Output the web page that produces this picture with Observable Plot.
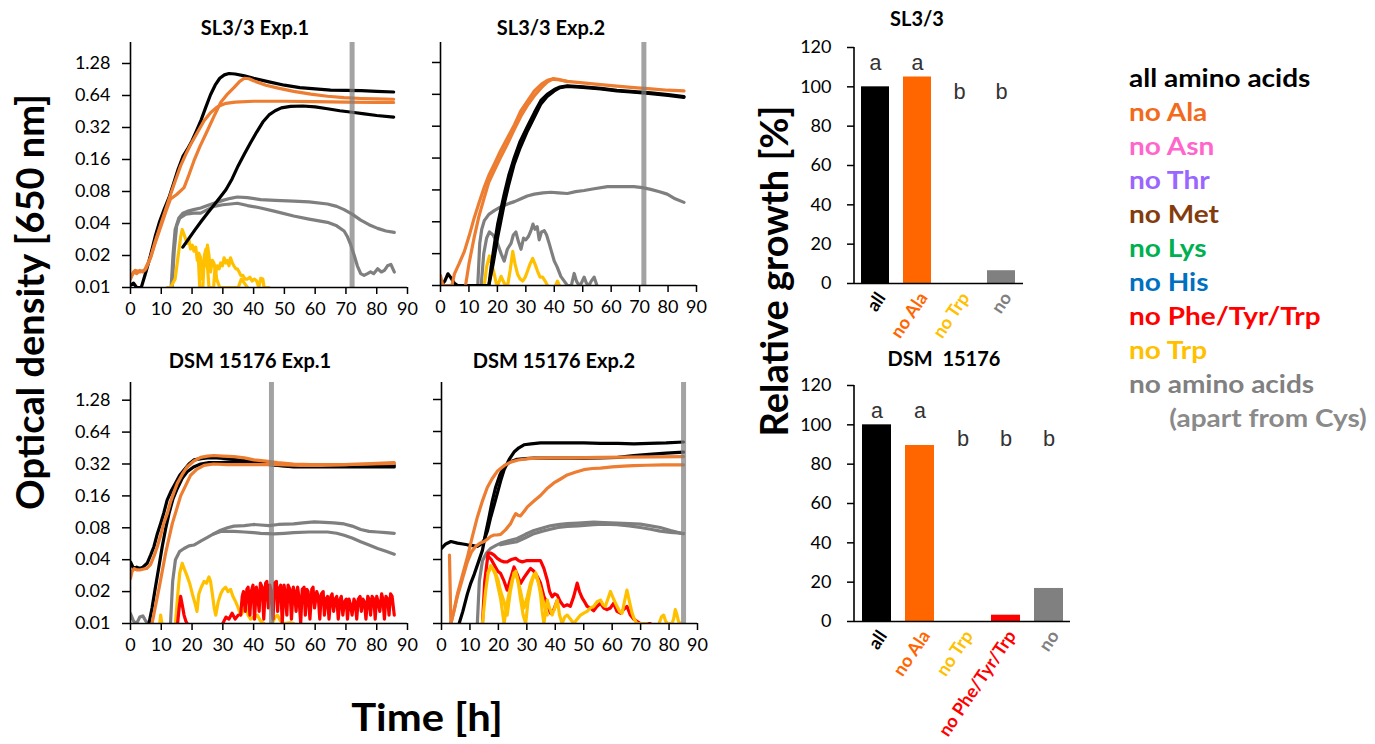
<!DOCTYPE html>
<html><head><meta charset="utf-8">
<script src="https://cdn.jsdelivr.net/npm/d3@7"></script>
<script src="https://cdn.jsdelivr.net/npm/@observablehq/plot@0.6"></script>
<style>
body{margin:0;background:#fff;}
#root{position:relative;width:1375px;height:744px;overflow:hidden;font-family:Lato,sans-serif;background:#fff;}
.t{position:absolute;transform:translate(-50%,-50%);white-space:nowrap;font-weight:bold;color:#000;}
.legend{position:absolute;left:1129px;top:60px;font-family:Lato,sans-serif;font-weight:bold;font-size:25px;line-height:34px;white-space:nowrap;transform:scaleX(1.12);transform-origin:0 0;}
</style></head>
<body><div id="root"></div>
<script>
// ---------- tick labels ----------
const xTicks = [0,10,20,30,40,50,60,70,80,90];
const yTicks = [0.01,0.02,0.04,0.08,0.16,0.32,0.64,1.28];
const barTicks = [0,20,40,60,80,100,120];

// ---------- SL3/3 Exp.1 ----------
const sl1_all1 = [[0,0.0105],[1,0.011],[2,0.01],[3.5,0.01],[5,0.014],[6.5,0.02],[8,0.03],[9.5,0.042],[11,0.055],[12.5,0.07],[14,0.095],[15.5,0.13],[17,0.17],[18.5,0.2],[20,0.24],[21.5,0.3],[23,0.38],[24.5,0.5],[26,0.65],[27.5,0.8],[29,0.93],[30.5,1.0],[32,1.03],[34,1.02],[37,0.98],[40,0.93],[45,0.86],[50,0.8],[55,0.76],[60,0.74],[65,0.72],[70,0.715],[75,0.71],[80,0.7],[85.5,0.69]];
const sl1_all2 = [[17,0.024],[19,0.029],[21,0.035],[23,0.042],[25,0.05],[27,0.059],[29,0.07],[31,0.083],[33,0.105],[35,0.14],[37,0.18],[39,0.23],[41,0.29],[43,0.36],[45,0.42],[47,0.46],[49,0.49],[52,0.505],[56,0.51],[60,0.5],[64,0.48],[68,0.46],[72,0.445],[76,0.43],[80,0.415],[85.5,0.4]];
const sl1_ala1 = [[0,0.012],[1,0.014],[2,0.0135],[3,0.0145],[4,0.014],[5,0.015],[6.5,0.019],[8,0.027],[9.8,0.039],[11.5,0.055],[13,0.075],[14.5,0.1],[16.3,0.14],[18,0.18],[19.5,0.22],[21.5,0.28],[23.9,0.37],[26,0.44],[28.2,0.5],[31,0.54],[34,0.555],[40,0.565],[50,0.565],[60,0.56],[70,0.555],[80,0.55],[85.5,0.55]];
const sl1_ala2 = [[0,0.0125],[1.5,0.0145],[3,0.014],[4.5,0.0145],[6.5,0.019],[8,0.026],[9.8,0.037],[11.5,0.052],[13,0.068],[15,0.075],[17.4,0.087],[19,0.115],[20.6,0.155],[22.5,0.21],[25,0.3],[27,0.4],[29.3,0.55],[31.5,0.66],[33.6,0.76],[35.5,0.87],[37,0.93],[38.5,0.92],[40,0.88],[44,0.8],[48,0.75],[53,0.7],[58.6,0.66],[64,0.63],[69.4,0.61],[75,0.6],[80,0.595],[85.5,0.59]];
const sl1_none1 = [[13.2,0.01],[13.8,0.02],[14.5,0.035],[15.7,0.045],[17,0.05],[18.4,0.052],[20.5,0.054],[22.8,0.056],[25,0.059],[27.1,0.062],[30,0.066],[32.5,0.069],[34.7,0.071],[38,0.07],[42.3,0.067],[47,0.066],[53,0.065],[58,0.064],[64,0.061],[67,0.058],[69.4,0.054],[72,0.049],[74.8,0.043],[77.5,0.039],[80.3,0.036],[83,0.034],[85.7,0.033]];
const sl1_none2 = [[13.5,0.01],[14.2,0.022],[15,0.038],[16,0.045],[18,0.049],[20.5,0.05],[22.8,0.05],[25,0.054],[27.1,0.058],[30,0.06],[32.5,0.061],[34.7,0.062],[38,0.059],[42.3,0.056],[47,0.052],[53,0.047],[58,0.044],[64,0.041],[67,0.038],[69.4,0.034],[70.5,0.03],[71.6,0.025],[72.7,0.02],[73.7,0.016],[74.8,0.0135],[75.9,0.013],[77,0.0135],[78,0.014],[79,0.0135],[80.3,0.015],[81.5,0.014],[82.5,0.0145],[83.5,0.016],[84.6,0.0165],[85.7,0.014]];
const sl1_trp1 = [[12,0.01],[13,0.01],[14.5,0.012],[15.5,0.02],[16.3,0.03],[16.8,0.035],[17.5,0.031],[18.4,0.026],[19,0.028],[19.5,0.023],[20.1,0.025],[20.6,0.022],[21.2,0.024],[21.7,0.018],[22.2,0.021],[22.8,0.019],[23.3,0.012],[23.9,0.018],[24.4,0.016],[25,0.025],[25.5,0.02],[26,0.014],[26.6,0.018],[27.1,0.017],[27.7,0.014],[28.2,0.016],[28.8,0.015],[29.3,0.017],[29.9,0.016],[30.4,0.019],[31,0.017],[31.5,0.018],[32,0.016],[32.5,0.019],[33.1,0.017],[33.6,0.016],[34.2,0.015],[34.7,0.015],[35.3,0.014],[35.8,0.013],[36.5,0.013],[37.2,0.012],[38,0.012],[38.8,0.0125],[39.5,0.0115],[40.2,0.012],[41,0.0115],[41.7,0.01],[42.3,0.0122],[43,0.012],[43.4,0.01],[45,0.01]];
const sl1_trp2 = [[22,0.02],[22.5,0.01],[23.5,0.01],[24,0.02],[24.5,0.023],[25,0.016],[25.5,0.01],[27,0.01],[27.5,0.016],[28,0.012],[29,0.01],[35,0.01],[36,0.012],[37,0.011],[38,0.01]];

// ---------- SL3/3 Exp.2 ----------
const sl2_all1 = [[0,0.01],[1.5,0.011],[2.6,0.0129],[3.5,0.012],[4.9,0.0105],[6,0.01],[17,0.01],[18.5,0.016],[20.1,0.0286],[22.4,0.059],[24,0.09],[25.9,0.14],[28,0.2],[30.6,0.29],[33,0.39],[35.3,0.52],[37.5,0.61],[40,0.69],[42,0.74],[44.6,0.76],[50,0.745],[56.3,0.72],[62,0.69],[68,0.67],[74,0.65],[80,0.625],[85.6,0.6]];
const sl2_all2 = [[17,0.01],[17.8,0.015],[19,0.025],[20.1,0.038],[22.4,0.073],[24,0.11],[25.9,0.16],[28,0.23],[30.6,0.32],[33,0.43],[35.3,0.56],[37.5,0.64],[40,0.71],[42,0.75],[44.6,0.77],[50,0.755],[56.3,0.73],[62,0.7],[68,0.68],[74,0.66],[80,0.635],[85.6,0.61]];
const sl2_ala1 = [[0,0.0124],[0.8,0.01],[4,0.01],[4.9,0.0129],[6.5,0.016],[8.4,0.021],[10,0.029],[11.9,0.044],[13.5,0.06],[15.4,0.085],[17,0.11],[18.9,0.14],[21,0.185],[23.6,0.25],[26,0.33],[28.3,0.45],[30.5,0.55],[33,0.69],[35.5,0.8],[37.6,0.87],[39.5,0.9],[42,0.88],[44.6,0.85],[50,0.82],[56.3,0.79],[62,0.765],[68,0.74],[74,0.72],[80,0.7],[85.6,0.69]];
const sl2_ala2 = [[8.8,0.01],[10,0.016],[11.9,0.029],[13.5,0.045],[15.4,0.068],[17,0.095],[18.9,0.122],[21,0.16],[23.6,0.22],[26,0.3],[28.3,0.4],[30.5,0.5],[33,0.62],[35.5,0.74],[37.6,0.84],[39.5,0.89],[42,0.875],[44.6,0.845]];
const sl2_none1 = [[13.1,0.01],[13.8,0.025],[14.5,0.034],[15.4,0.041],[17,0.047],[18.9,0.051],[21,0.055],[23.6,0.059],[26,0.062],[28.3,0.066],[30.5,0.07],[33,0.073],[36,0.075],[38.8,0.076],[41.5,0.075],[44.6,0.074],[47.5,0.077],[50.5,0.079],[54,0.082],[58.7,0.086],[63,0.086],[68,0.086],[71,0.084],[73.9,0.081],[77,0.077],[79.7,0.073],[82.5,0.066],[85.6,0.061]];
const sl2_none2 = [[14.3,0.01],[15.2,0.02],[16.2,0.028],[17.2,0.032],[18.5,0.03],[20.1,0.0247],[21.3,0.02],[22.4,0.017],[23.5,0.022],[24.8,0.025],[25.6,0.03],[26.5,0.032],[27.4,0.026],[28.3,0.022],[29.2,0.028],[30,0.027],[30.9,0.029],[31.8,0.033],[32.5,0.038],[33.2,0.034],[34,0.036],[34.7,0.027],[35.5,0.032],[36.5,0.033],[37.3,0.03],[38.2,0.025],[39,0.021],[40,0.017],[41,0.015],[42.3,0.0122],[43.5,0.011],[44.6,0.01],[46,0.01],[47,0.013],[47.8,0.011],[48.7,0.01],[49.5,0.0105],[50.5,0.012],[51.3,0.0105],[52.2,0.01],[53,0.011],[54,0.012],[55,0.01]];
const sl2_trp1 = [[15.4,0.01],[16.2,0.015],[17.2,0.019],[18,0.016],[18.9,0.0128],[19.6,0.0105],[20.1,0.01],[21.3,0.0122],[22.4,0.0105],[23.6,0.01],[24.5,0.014],[25.4,0.021],[26.2,0.016],[27.1,0.0128],[28,0.0115],[28.9,0.011],[29.8,0.012],[30.6,0.0137],[31.5,0.016],[32.4,0.018],[33.2,0.016],[34.1,0.0137],[35,0.012],[35.9,0.012],[36.8,0.011],[37.6,0.01]];
const sl2_trp2 = [[40.5,0.01],[41.1,0.011],[41.8,0.01]];

// ---------- DSM 15176 Exp.1 ----------
const d1_all1 = [[0,0.038],[1,0.033],[2,0.034],[3,0.033],[4,0.034],[5.4,0.037],[6.5,0.044],[7.6,0.053],[8.7,0.07],[9.8,0.088],[10.8,0.11],[11.9,0.146],[13.3,0.18],[14.6,0.21],[16,0.25],[17.4,0.28],[19,0.32],[20.6,0.35],[23,0.36],[25,0.365],[28,0.365],[31.5,0.36],[35,0.35],[38,0.345],[41,0.335],[44.5,0.32],[48,0.31],[53,0.3],[58,0.3],[64,0.3],[70,0.3],[75,0.3],[80,0.3],[85.7,0.3]];
const d1_all2 = [[6,0.01],[7,0.014],[8.1,0.022],[9.2,0.034],[10.3,0.053],[11.4,0.078],[12.5,0.109],[13.8,0.15],[15.2,0.188],[16.8,0.235],[18.4,0.27],[20.5,0.3],[22.8,0.32],[25.5,0.33],[29.3,0.33],[33,0.335],[38,0.33],[43,0.32],[47.7,0.31],[53,0.305],[58.6,0.305],[65,0.305],[72,0.31],[79,0.315],[85.7,0.31]];
const d1_ala1 = [[0,0.0266],[0.5,0.031],[1.2,0.033],[2,0.032],[3,0.032],[4,0.0325],[5.2,0.033],[6.5,0.036],[7.6,0.043],[8.7,0.053],[9.8,0.068],[10.8,0.088],[12,0.11],[13,0.14],[14,0.17],[15.2,0.21],[16.8,0.255],[18.4,0.3],[20.5,0.34],[22.8,0.37],[25,0.38],[27.1,0.385],[30,0.38],[33.6,0.375],[37,0.365],[40.1,0.35],[44,0.34],[47.7,0.33],[53,0.32],[58.6,0.315],[64,0.315],[69.4,0.315],[75,0.32],[80,0.325],[85.7,0.33]];
const d1_ala2 = [[7,0.01],[8,0.014],[9.2,0.021],[10.3,0.031],[11.4,0.046],[12.5,0.064],[13.6,0.088],[15,0.12],[16.3,0.16],[17.9,0.2],[19.5,0.25],[21.5,0.285],[23.9,0.31],[27,0.32],[31.5,0.315],[36,0.315],[42.3,0.315],[48,0.315],[55,0.31],[62,0.31],[70,0.315],[78,0.32],[85.7,0.325]];
const d1_none0 = [[0,0.0124],[1,0.0105],[2,0.01],[3,0.0115],[4,0.0118],[5,0.0105],[6,0.01]];
const d1_none1 = [[13,0.01],[13.7,0.025],[14.6,0.04],[16,0.048],[17.4,0.051],[19,0.054],[20.6,0.055],[22.8,0.06],[25,0.065],[27,0.07],[29.3,0.076],[31.5,0.08],[33.6,0.083],[37,0.084],[40,0.086],[42.3,0.085],[45,0.084],[48,0.086],[53,0.087],[56,0.089],[59.7,0.091],[63,0.09],[66,0.089],[69.4,0.087],[72,0.083],[74.8,0.077],[77.5,0.074],[80.3,0.073],[83,0.072],[85.7,0.071]];
const d1_none2 = [[27,0.07],[29.3,0.074],[31.5,0.074],[33.6,0.074],[37,0.073],[40,0.072],[42.3,0.071],[46.6,0.07],[50,0.071],[53,0.072],[58,0.073],[64,0.073],[67,0.071],[69.4,0.068],[72,0.064],[74.8,0.059],[77.5,0.055],[80.3,0.051],[83,0.048],[85.7,0.045]];
const d1_trp0 = [[9.5,0.01],[9.8,0.012],[10.2,0.01]];
const d1_trp1 = [[14.6,0.01],[15.3,0.018],[16,0.03],[16.8,0.037],[17.6,0.032],[18.4,0.028],[19.2,0.024],[20.1,0.019],[21.1,0.015],[21.6,0.013],[22.2,0.019],[23,0.022],[23.9,0.025],[24.7,0.024],[25.5,0.0275],[26,0.025],[26.6,0.019],[27.2,0.014],[27.7,0.012],[28.5,0.016],[29.3,0.019],[30.1,0.021],[30.9,0.022],[31.7,0.02],[32.5,0.021],[33.3,0.018],[34.2,0.016],[35,0.014],[35.8,0.012],[36.6,0.013],[37.4,0.0145],[38.2,0.012],[39,0.011],[40,0.0115],[41.2,0.012],[42.3,0.0105],[43.4,0.01]];
const d1_trp2 = [[46,0.01],[47,0.0115],[47.7,0.012],[48.8,0.0105],[49.9,0.01],[52,0.0102],[53,0.01]];
const d1_phe0 = [[15.3,0.01],[15.8,0.014],[16.3,0.018],[17,0.014],[17.4,0.012],[18,0.0105],[18.4,0.01]];
const d1_phe1 = [[30,0.01],[31,0.0115],[32,0.011],[33,0.0125],[34,0.011],[35,0.012]];
const d1_phe2 = [[35.8,0.012],[36.3,0.018],[36.7,0.02],[37.3,0.013],[37.8,0.021],[38.2,0.022],[38.8,0.012],[39.2,0.02],[39.8,0.023],[40.3,0.011],[40.9,0.022],[41.3,0.019],[41.8,0.013],[42.2,0.024],[42.8,0.022],[43.3,0.011],[43.9,0.024],[44.3,0.025],[44.8,0.014],[45.3,0.023],[45.7,0.02],[46.3,0.011],[46.8,0.024],[47.4,0.025],[47.8,0.013],[48.2,0.021],[48.8,0.023],[49.3,0.01],[49.9,0.023],[50.3,0.019],[50.8,0.012],[51.2,0.023],[51.8,0.021],[52.3,0.011],[52.9,0.022],[53.3,0.02],[53.8,0.013],[54.3,0.022],[54.7,0.018],[55.3,0.01],[55.8,0.021],[56.4,0.022],[56.8,0.012],[57.3,0.021],[57.7,0.02],[58.3,0.011],[58.9,0.021],[59.3,0.022],[59.8,0.014],[60.5,0.02],[61,0.018],[61.5,0.011],[62,0.019],[62.6,0.02],[63,0.012],[63.5,0.017],[64,0.018],[64.5,0.011],[65.1,0.018],[65.5,0.019],[66,0.013],[66.5,0.017],[67,0.018],[67.5,0.011],[68.1,0.017],[68.5,0.018],[69,0.012],[69.5,0.016],[70.1,0.017],[70.5,0.011],[71,0.017],[71.5,0.015],[72,0.012],[72.6,0.017],[73,0.016],[73.5,0.011],[74,0.017],[74.6,0.018],[75,0.013],[75.5,0.017],[76,0.016],[76.5,0.011],[77.1,0.018],[77.5,0.017],[78,0.012],[78.5,0.018],[79.1,0.017],[79.5,0.011],[80,0.018],[80.5,0.016],[81,0.013],[81.6,0.019],[82,0.017],[82.5,0.011],[83,0.018],[83.6,0.017],[84,0.012],[84.5,0.019],[85,0.018],[85.7,0.012]];

// ---------- DSM 15176 Exp.2 ----------
const d2_all1 = [[0,0.051],[1.5,0.056],[3.3,0.059],[5.6,0.057],[7.5,0.056],[9.1,0.055],[11,0.054],[12.6,0.053],[14,0.056],[15,0.061],[16.2,0.075],[17.3,0.1],[18.5,0.13],[19.6,0.167],[20.8,0.22],[22,0.28],[23.8,0.35],[25.5,0.41],[27.2,0.45],[29,0.48],[31.5,0.49],[34.8,0.5],[40,0.5],[44.2,0.5],[50,0.5],[55.9,0.495],[62,0.495],[67.6,0.49],[73,0.495],[79,0.5],[85.1,0.51]];
const d2_all2 = [[6.2,0.01],[7.5,0.013],[9.1,0.019],[10.3,0.024],[11.5,0.029],[13,0.038],[14.4,0.049],[15.5,0.07],[16.7,0.1],[17.8,0.14],[19,0.19],[20.5,0.25],[22,0.3],[24,0.33],[26.6,0.35],[29.5,0.355],[32.5,0.36],[38,0.36],[44.2,0.36],[50,0.36],[55.9,0.362],[62,0.365],[67.6,0.38],[73,0.39],[79,0.4],[85.1,0.41]];
const d2_ala0 = [[2.8,0.044],[3.3,0.01]];
const d2_ala1 = [[3.3,0.01],[4.5,0.0135],[5.6,0.019],[7.3,0.028],[9.1,0.042],[10.8,0.065],[12.6,0.1],[14.3,0.14],[16.1,0.19],[17.8,0.23],[19.6,0.27],[22,0.305],[24.3,0.33],[27,0.345],[30.2,0.355],[34,0.36],[38.3,0.362],[45,0.362],[55.9,0.365],[65,0.368],[75,0.37],[85.1,0.372]];
const d2_ala2 = [[3.3,0.01],[5.6,0.018],[7.5,0.027],[9.1,0.038],[10.5,0.047],[12,0.053],[13.5,0.057],[15,0.059],[16.1,0.062],[17.3,0.066],[18.5,0.068],[19.5,0.068],[20.8,0.069],[22.5,0.076],[24.3,0.087],[25.2,0.098],[26.1,0.108],[27,0.104],[27.8,0.103],[29,0.113],[30.2,0.125],[32.5,0.142],[34.8,0.16],[37,0.185],[39.5,0.21],[42,0.23],[44.2,0.25],[47,0.265],[50,0.28],[53,0.287],[55.9,0.29],[60,0.297],[64,0.302],[67.6,0.306],[72,0.308],[78,0.31],[85.1,0.31]];
const d2_none1 = [[12.6,0.01],[13.3,0.025],[14.4,0.039],[15.8,0.046],[17.3,0.051],[19,0.054],[20.8,0.057],[23.5,0.06],[26.6,0.063],[29.5,0.069],[32.5,0.075],[35.5,0.079],[38.3,0.083],[41,0.085],[44.2,0.087],[48,0.088],[53.5,0.09],[57,0.089],[61.7,0.088],[66,0.087],[69.9,0.086],[73.5,0.083],[76.9,0.08],[80.5,0.075],[83,0.072],[85.1,0.07]];
const d2_none2 = [[20.8,0.055],[23.5,0.057],[26.6,0.059],[29.5,0.064],[32.5,0.07],[35.5,0.074],[38.3,0.077],[41,0.08],[44.2,0.082],[48,0.083],[53.5,0.085],[57,0.086],[61.7,0.085],[66,0.083],[69.9,0.08],[73.5,0.077],[76.9,0.074],[80.5,0.072],[83,0.071],[85.1,0.07]];
const d2_phe1 = [[14.4,0.01],[15.2,0.025],[16.4,0.046],[17.4,0.046],[18.5,0.044],[19.6,0.041],[20.8,0.039],[22,0.038],[23.1,0.038],[24.5,0.04],[26.1,0.041],[27.2,0.039],[28.4,0.038],[29.8,0.039],[31.3,0.039],[33,0.039],[34.8,0.039],[36,0.033],[37.2,0.0255],[38,0.02],[38.9,0.0178],[39.8,0.019],[40.7,0.0185],[41.8,0.016],[43,0.0145],[44.2,0.015],[45.3,0.0145],[46.5,0.018],[47.7,0.024],[48.5,0.02],[49.4,0.0175],[50.3,0.016],[51.2,0.0145],[52.3,0.014],[53.5,0.0132],[54.7,0.0145],[55.9,0.0155],[57,0.014],[58.2,0.0135],[59.4,0.014],[60.5,0.0155],[61.7,0.013],[62.9,0.0125],[64,0.0135],[65.2,0.0145],[66.4,0.012],[67.6,0.011],[68.7,0.0105],[69.9,0.01],[73.4,0.01]];
const d2_phe2 = [[16.4,0.043],[17.5,0.04],[18.7,0.035],[19.8,0.031],[20.8,0.0295],[22,0.025],[23.1,0.0206],[24.2,0.026],[25.5,0.034],[26.6,0.029],[27.8,0.0238],[29,0.027],[30.2,0.03],[31.3,0.033],[32.5,0.031],[33.7,0.0275],[34.8,0.024],[36,0.018],[37.2,0.0155],[38.3,0.0125],[39.5,0.0135],[40.7,0.0165]];
const d2_trp1 = [[14.4,0.01],[15.5,0.02],[16.4,0.03],[17.3,0.035],[18.2,0.032],[19,0.0285],[19.9,0.022],[20.8,0.017],[21.4,0.013],[22,0.01],[22.8,0.014],[23.7,0.019],[24.9,0.026],[26.1,0.031],[27,0.024],[27.8,0.017],[28.7,0.012],[29.6,0.01],[30.4,0.016],[31.3,0.022],[32.2,0.027],[33.1,0.03],[34,0.025],[34.8,0.019],[35.4,0.013],[36,0.01],[36.6,0.013],[37.2,0.0166],[38,0.014],[38.9,0.012],[39.8,0.014],[40.7,0.0166],[41.5,0.012],[42.4,0.01],[43.3,0.0115],[44.2,0.012],[45.3,0.011],[46.5,0.01],[47.7,0.011],[48.9,0.012],[50,0.0125],[51.2,0.013],[52.3,0.014],[53.5,0.0145],[54.7,0.016],[55.9,0.0166],[56.8,0.015],[57.6,0.0145],[58.5,0.017],[59.4,0.02],[60.5,0.017],[61.7,0.0145],[62.6,0.013],[63.5,0.0125],[64.3,0.016],[65.2,0.0206],[66.1,0.016],[67,0.0125],[67.8,0.011],[68.7,0.01],[72.2,0.01]];
const d2_trp2 = [[76.5,0.01],[77.3,0.0115],[78.1,0.012],[78.8,0.0105],[79.5,0.01],[81,0.01],[81.6,0.011],[82.2,0.0135],[82.8,0.012],[83.3,0.0105],[84,0.01]];
const d2_trp3 = [[16.4,0.03],[17.5,0.034],[18.7,0.031],[19.8,0.026],[20.8,0.02],[22,0.016],[23.1,0.012],[24.2,0.02],[25.5,0.03],[26.6,0.027],[27.8,0.02],[29,0.014],[30.2,0.018],[31.3,0.024],[32.5,0.029],[33.7,0.026],[34.8,0.021],[36,0.015],[37.2,0.012]];

// ---------- harvest times (grey bars) ----------
const harvestTimes = [72, 71.5, 45.8, 85.1];

// ---------- relative growth bars ----------
const slCats = ["all","no Ala","no Trp","no"];
const slValues = [100, 105, 0, 6.5];
const slLetters = ["a","a","b","b"];
const dsmCats = ["all","no Ala","no Trp","no Phe/Tyr/Trp","no"];
const dsmValues = [100, 89.5, 0, 3.2, 16.8];
const dsmLetters = ["a","a","b","b","b"];

// ---------- legend ----------
const legendLabels = ["all amino acids","no Ala","no Asn","no Thr","no Met","no Lys","no His","no Phe/Tyr/Trp","no Trp","no amino acids"];
const legendColors = ["#000000","#f26b1d","#ff66cc","#9966ff","#843c0c","#00b050","#0070c0","#ff0000","#ffc000","#808080"];

// ---------- colours ----------
const C = {all:"#000000", ala:"#ed7d31", none:"#7f7f7f", trp:"#ffc000", phe:"#ff0000"};
const barColor = {"all":"#000000","no Ala":"#ff6600","no Trp":"#ffc000","no Phe/Tyr/Trp":"#ff0000","no":"#808080"};

const root = document.getElementById("root");
function place(el, left, top){ el.style.position="absolute"; el.style.left=left+"px"; el.style.top=top+"px"; root.appendChild(el); }
function label(text, cx, cy, size, rot, sx){
  const d=document.createElement("div"); d.className="t"; d.textContent=text;
  d.style.left=cx+"px"; d.style.top=cy+"px"; d.style.fontSize=size+"px";
  d.style.transform="translate(-50%,-50%)" + (rot? " rotate("+rot+"deg)":"") + (sx? " scaleX("+sx+")":"");
  root.appendChild(d);
}
const baseStyle = {fontFamily:"Lato, sans-serif", fontSize:"18px", color:"#000", background:"transparent", overflow:"visible"};

function linePanel(p){
  const marks = [];
  for (const [data, key] of p.series) {
    marks.push(Plot.line(data, {x:d=>d[0], y:d=>d[1], stroke:C[key], strokeWidth:3.2, strokeLinejoin:"round", strokeLinecap:"round", clip:true}));
  }
  marks.push(Plot.ruleX([p.band], {stroke:"#7f7f7f", strokeOpacity:0.72, strokeWidth:5}));
  marks.push(Plot.ruleY([0.01], {stroke:"#000", strokeWidth:1.6}));
  marks.push(Plot.ruleX([0], {stroke:"#000", strokeWidth:1.6}));
  marks.push(Plot.axisX({ticks:xTicks, tickSize:7, tickPadding:8, strokeWidth:1.5, label:null, tickFormat:d=>String(d)}));
  marks.push(Plot.axisY({ticks:yTicks, tickSize:8, tickPadding:12, strokeWidth:1.5, label:null, tickFormat:()=>""}));
  if (p.yLabels) marks.push(Plot.text(yTicks, {y:d=>d, text:d=>String(d), frameAnchor:"left", textAnchor:"end", dx:-20, fontSize:18}));
  const svg = Plot.plot({
    width:60+p.w+10, height:10+p.h+35, marginLeft:60, marginRight:10, marginTop:10, marginBottom:35,
    x:{domain:[0,90]}, y:{type:"log", domain:[0.01,p.yTop]},
    style:baseStyle, marks
  });
  place(svg, p.left, p.top);
}

linePanel({left:70, top:32, w:277, h:245, yTop:2.017, band:harvestTimes[0], yLabels:true,
  series:[[sl1_none1,"none"],[sl1_none2,"none"],[sl1_trp1,"trp"],[sl1_trp2,"trp"],[sl1_all1,"all"],[sl1_all2,"all"],[sl1_ala1,"ala"],[sl1_ala2,"ala"]]});
linePanel({left:380, top:32, w:256, h:243, yTop:1.977, band:harvestTimes[1], yLabels:false,
  series:[[sl2_none1,"none"],[sl2_none2,"none"],[sl2_trp1,"trp"],[sl2_trp2,"trp"],[sl2_all1,"all"],[sl2_all2,"all"],[sl2_ala1,"ala"],[sl2_ala2,"ala"]]});
linePanel({left:70, top:372, w:277, h:241, yTop:1.88, band:harvestTimes[2], yLabels:true,
  series:[[d1_none0,"none"],[d1_none1,"none"],[d1_none2,"none"],[d1_trp0,"trp"],[d1_trp1,"trp"],[d1_trp2,"trp"],[d1_phe0,"phe"],[d1_phe1,"phe"],[d1_phe2,"phe"],[d1_all1,"all"],[d1_all2,"all"],[d1_ala1,"ala"],[d1_ala2,"ala"]]});
linePanel({left:381, top:372, w:256, h:241, yTop:1.85, band:harvestTimes[3], yLabels:false,
  series:[[d2_none1,"none"],[d2_none2,"none"],[d2_phe1,"phe"],[d2_phe2,"phe"],[d2_trp1,"trp"],[d2_trp2,"trp"],[d2_trp3,"trp"],[d2_all1,"all"],[d2_all2,"all"],[d2_ala0,"ala"],[d2_ala1,"ala"],[d2_ala2,"ala"]]});

function barPanel(cats, vals, letters, letterY, w, h, mb, padIn, padOut, left, top){
  const data = cats.map((c,i)=>({c, v:vals[i], L:letters[i]}));
  const yLine = (index, scales, values, dim) => {
    const l = document.createElementNS("http://www.w3.org/2000/svg","line");
    l.setAttribute("x1", dim.marginLeft); l.setAttribute("x2", dim.marginLeft);
    l.setAttribute("y1", dim.marginTop); l.setAttribute("y2", dim.height - dim.marginBottom);
    l.setAttribute("stroke","#000"); l.setAttribute("stroke-width","1.6");
    return l;
  };
  const svg = Plot.plot({
    width:70+w+5, height:10+h+mb, marginLeft:70, marginRight:5, marginTop:10, marginBottom:mb,
    x:{domain:cats, paddingInner:padIn, paddingOuter:padOut, axis:null},
    y:{domain:[0,120]},
    color:{type:"identity"},
    style:baseStyle,
    marks:[
      Plot.barY(data, {x:"c", y:"v", fill:d=>barColor[d.c]}),
      Plot.ruleY([0], {stroke:"#000", strokeWidth:1.6}),
      yLine,
      Plot.axisY({ticks:barTicks, tickSize:7, tickPadding:16, strokeWidth:1.5, label:null, tickFormat:d=>String(d)}),
      Plot.text(data, {x:"c", y:d=>letterY[d.L], text:"L", fontFamily:"Liberation Mono, DejaVu Sans Mono, monospace", fontSize:22, fill:"#333", lineAnchor:"middle"}),
      Plot.text(data, {x:"c", y:0, text:"c", rotate:-56, textAnchor:"end", lineAnchor:"middle", dx:6, dy:11, fill:d=>barColor[d.c], fontWeight:"bold", fontSize:18})
    ]
  });
  place(svg, left, top);
}
barPanel(slCats, slValues, slLetters, {a:112, b:97.5}, 169, 236, 80, 0.33, 0.17, 784, 37);
barPanel(dsmCats, dsmValues, dsmLetters, {a:107, b:93}, 216, 236, 118, 0.337, 0.15, 784, 375);

// titles
label("SL3/3 Exp.1", 255, 27, 20);
label("SL3/3 Exp.2", 551, 27, 20);
label("DSM 15176 Exp.1", 250, 360, 20);
label("DSM 15176 Exp.2", 554, 360, 20);
label("SL3/3", 917, 18, 20);
label("DSM\u00a0\u00a015176", 944, 358, 20);
label("Optical density [650 nm]", 29, 302, 38, -90);
label("Time [h]", 427, 716, 38, 0, 1.1);
label("Relative growth [%]", 773, 271, 38, -90);

// legend
const lg = document.createElement("div"); lg.className="legend";
legendLabels.forEach((t,i)=>{ const r=document.createElement("div"); r.textContent=t; r.style.color=legendColors[i]; lg.appendChild(r); });
const extra = document.createElement("div"); extra.textContent="(apart from Cys)"; extra.style.color="#8a8a8a"; extra.style.paddingLeft="36px"; lg.appendChild(extra);
root.appendChild(lg);
</script>
</body></html>
